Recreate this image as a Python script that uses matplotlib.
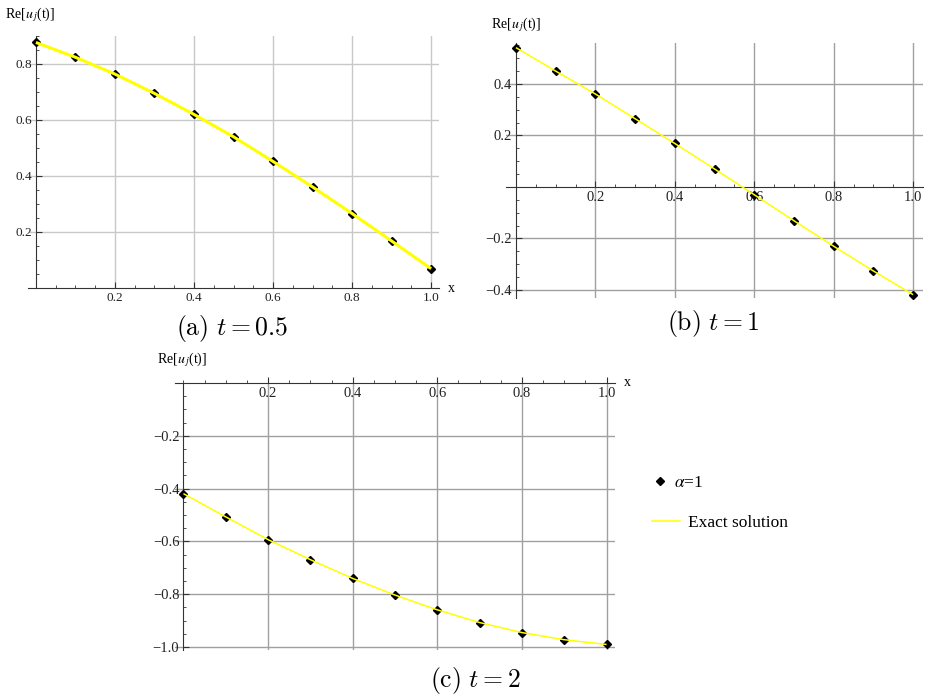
import matplotlib.pyplot as plt
from matplotlib.lines import Line2D
from matplotlib.ticker import MultipleLocator

plt.rcParams['font.family'] = ['Liberation Serif', 'DejaVu Serif']
plt.rcParams['mathtext.fontset'] = 'stix'

# values
x_nodes = [0.0, 0.1, 0.2, 0.3, 0.4, 0.5, 0.6, 0.7, 0.8, 0.9, 1.0]
re_u_t05 = [0.877, 0.824, 0.764, 0.695, 0.620, 0.540, 0.452, 0.361, 0.266, 0.168, 0.069]
re_u_t1 = [0.541, 0.450, 0.361, 0.265, 0.169, 0.070, -0.030, -0.131, -0.230, -0.326, -0.418]
re_u_t2 = [-0.419, -0.507, -0.593, -0.669, -0.740, -0.803, -0.859, -0.907, -0.945, -0.972, -0.990]

x_ticks = [0.2, 0.4, 0.6, 0.8, 1.0]
y_ticks_a = [0.2, 0.4, 0.6, 0.8]
y_ticks_b = [-0.4, -0.2, 0.2, 0.4]
y_ticks_c = [-1.0, -0.8, -0.6, -0.4, -0.2]

W, H = 932, 696
fig = plt.figure(figsize=(W / 100, H / 100), dpi=100)


def px_rect(left, top, right, bottom):
    return [left / W, 1 - bottom / H, (right - left) / W, (bottom - top) / H]


def panel(rect, y, yticks, xlim, ylim, lw, grid_color, fs):
    ax = fig.add_axes(rect)
    ax.set_xlim(*xlim)
    ax.set_ylim(*ylim)
    for s in ['top', 'right']:
        ax.spines[s].set_visible(False)
    ax.spines['left'].set_position(('data', 0))
    ax.spines['bottom'].set_position(('data', 0))
    for s in ['left', 'bottom']:
        ax.spines[s].set_color('#333333')
        ax.spines[s].set_linewidth(0.8)
    ax.set_xticks(x_ticks)
    ax.set_xticklabels(['%.1f' % v for v in x_ticks])
    ax.set_yticks(yticks)
    ax.set_yticklabels([('%.1f' % v).replace('-', '\u2212') for v in yticks])
    ax.xaxis.set_minor_locator(MultipleLocator(0.05))
    ax.yaxis.set_minor_locator(MultipleLocator(0.05))
    ax.tick_params(which='major', direction='in', length=4, width=0.8,
                   labelsize=fs, pad=3, colors='#333333', labelcolor='#222222')
    ax.tick_params(which='minor', direction='in', length=2, width=0.6, colors='#333333')
    ax.grid(True, which='major', color=grid_color, linewidth=1.0)
    ax.set_axisbelow(True)
    ax.set_facecolor('none')
    ax.plot(x_nodes, y, linestyle='none', marker='D', markersize=4,
            color='black', zorder=3, clip_on=False)
    ax.plot(x_nodes, y, color='#ffff00', linewidth=lw, zorder=4,
            solid_capstyle='butt', clip_on=False)
    return ax


ax_a = panel(px_rect(28, 36, 439, 288), re_u_t05, y_ticks_a,
             (-0.02, 1.02), (0, 0.9), 2.2, '#c8c8c8', 9.5)
ax_b = panel(px_rect(506, 43, 923, 298), re_u_t1, y_ticks_b,
             (-0.025, 1.025), (-0.431, 0.559), 1.1, '#a0a0a0', 10.5)
ax_c = panel(px_rect(175, 383, 615, 650), re_u_t2, y_ticks_c,
             (-0.02, 1.02), (-1.011, 0.0), 1.1, '#a0a0a0', 10.5)

ylab = r'Re[$u_{\,j}$(t)]'
fig.text(5 / W, 1 - 15 / H, ylab, fontsize=10, va='center', ha='left')
fig.text(491 / W, 1 - 25 / H, ylab, fontsize=10, va='center', ha='left')
fig.text(157 / W, 1 - 360 / H, ylab, fontsize=10, va='center', ha='left')
fig.text(448 / W, 1 - 289 / H, 'x', fontsize=10, va='center', ha='left')
fig.text(624 / W, 1 - 383 / H, 'x', fontsize=10, va='center', ha='left')

cap = dict(fontsize=18.5, ha='center', va='center', family='DejaVu Serif', math_fontfamily='cm')
fig.text(232 / W, 1 - 329 / H, r'$\mathrm{(a)}\ t = 0.5$', **cap)
fig.text(713 / W, 1 - 324 / H, r'$\mathrm{(b)}\ t = 1$', **cap)
fig.text(475 / W, 1 - 680 / H, r'$\mathrm{(c)}\ t = 2$', **cap)

leg_kw = dict(loc='center left', frameon=False, fontsize=12.5,
              borderpad=0, borderaxespad=0)
fig.legend([Line2D([], [], linestyle='none', marker='D', markersize=4, color='black')],
           [r'$\alpha$=1'], bbox_to_anchor=(651 / W, 1 - 483 / H),
           handlelength=1.0, handletextpad=0.3, **leg_kw)
fig.legend([Line2D([], [], color='#ffff00', linewidth=1.1)],
           ['Exact solution'], bbox_to_anchor=(652 / W, 1 - 523 / H),
           handlelength=1.6, handletextpad=0.5, **leg_kw)

fig.savefig('out.png', dpi=100)
